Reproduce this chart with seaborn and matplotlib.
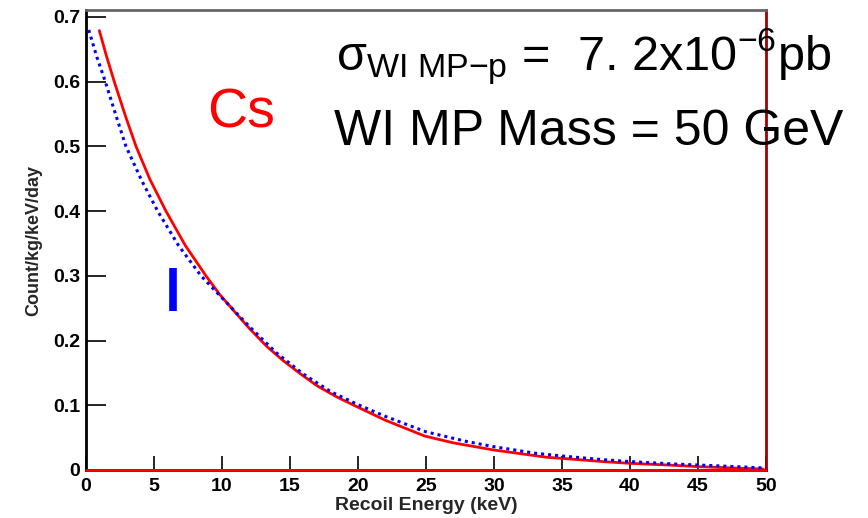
import matplotlib
matplotlib.use("Agg")
import matplotlib.pyplot as plt
import seaborn as sns
import pandas as pd

# Cs curve (red, solid)
red_E = [0.98, 1.5, 2.08, 2.9, 3.68, 4.7, 5.88, 7.3, 8.82, 9.8, 10.83, 12, 13.29, 14.5,
         15.74, 17, 18.43, 19.9, 22, 24.9, 27, 29.95, 33.9, 35, 38, 40, 43, 45, 48, 49.8]
red_v = [0.679, 0.640, 0.600, 0.547, 0.500, 0.449, 0.400, 0.347, 0.300, 0.272, 0.247, 0.219,
         0.191, 0.169, 0.149, 0.130, 0.113, 0.098, 0.077, 0.0525, 0.042, 0.031, 0.0196, 0.018,
         0.013, 0.0103, 0.0075, 0.0052, 0.0028, 0.0015]

# comparison curve (blue, dotted)
blue_E = [0.2, 0.8, 1.42, 2.2, 2.94, 4.1, 5.27, 6.8, 8.46, 10, 12, 14, 16, 18, 20, 22, 25,
          28, 30, 33, 35, 38, 40, 43, 45, 48, 50]
blue_v = [0.680, 0.638, 0.600, 0.548, 0.500, 0.447, 0.400, 0.347, 0.300, 0.266, 0.222, 0.181,
          0.148, 0.121, 0.101, 0.083, 0.059, 0.044, 0.036, 0.026, 0.0216, 0.016, 0.013, 0.0095,
          0.0077, 0.005, 0.003]

x_ticks = [0, 5, 10, 15, 20, 25, 30, 35, 40, 45, 50]
y_ticks = [0, 0.1, 0.2, 0.3, 0.4, 0.5, 0.6, 0.7]
y_tick_labels = ["0", "0.1", "0.2", "0.3", "0.4", "0.5", "0.6", "0.7"]

sns.set_theme(style="ticks")
plt.rcParams["font.family"] = ["Liberation Sans", "DejaVu Sans"]
plt.rcParams["mathtext.fontset"] = "custom"
plt.rcParams["mathtext.rm"] = "Liberation Sans"
plt.rcParams["mathtext.it"] = "Liberation Sans"
plt.rcParams["mathtext.bf"] = "Liberation Sans"

fig = plt.figure(figsize=(8.68, 5.18), dpi=100)
ax = fig.add_axes([86/868, 48/518, 680/868, 460/518])

df_red = pd.DataFrame({"E": red_E, "v": red_v})
df_blue = pd.DataFrame({"E": blue_E, "v": blue_v})

sns.lineplot(data=df_blue, x="E", y="v", ax=ax, color="#0000ff", lw=2.2,
             linestyle=(0, (1, 1.3)), zorder=3)
sns.lineplot(data=df_red, x="E", y="v", ax=ax, color="#ff0000", lw=2.0, zorder=2)

# baseline of histogram
ax.axhline(0, color="#ff0000", lw=2.0, zorder=4, clip_on=False)

# blue marker bar
ax.plot([6.4, 6.4], [0.245, 0.312], color="#0000ff", lw=5.5, solid_capstyle="butt")

ax.set_xlim(0, 50)
ax.set_ylim(0, 0.7108)
ax.set_xticks(x_ticks)
ax.set_xticklabels([str(t) for t in x_ticks])
ax.set_yticks(y_ticks)
ax.set_yticklabels(y_tick_labels)
ax.tick_params(axis="y", direction="in", length=14.5, width=1.2, colors="black",
               labelsize=14, pad=4)
ax.tick_params(axis="x", direction="in", length=10, width=1.2, colors="black",
               labelsize=14, pad=6)
for lab in ax.get_xticklabels() + ax.get_yticklabels():
    lab.set_fontweight("bold")

ax.set_xlabel("Recoil Energy (keV)", fontsize=14, fontweight="bold", labelpad=1)
ax.set_ylabel("Count/kg/keV/day", fontsize=13, fontweight="bold", labelpad=8)

ax.spines["left"].set_color("black")
ax.spines["left"].set_linewidth(2)
ax.spines["bottom"].set_color("black")
ax.spines["bottom"].set_linewidth(2)
ax.spines["right"].set_visible(True)
ax.spines["right"].set_color("#a00000")
ax.spines["right"].set_linewidth(2)
ax.spines["top"].set_visible(True)
ax.spines["top"].set_color("#666666")
ax.spines["top"].set_linewidth(2)

ax.text(0.178, (470 - 128) / 460, "Cs", transform=ax.transAxes, color="#ff0000",
        fontsize=40, ha="left", va="baseline")

fig.text(336/868, 1 - 70/518, r"$\sigma_{\mathrm{WI\ MP{-}p}}$ =  7. 2x10$^{-6}$pb",
         fontsize=35, ha="left", va="baseline", color="black")
fig.text(334/868, 1 - 145/518, "WI MP Mass = 50 GeV",
         fontsize=36, ha="left", va="baseline", color="black")

fig.savefig("out.png", dpi=100)
